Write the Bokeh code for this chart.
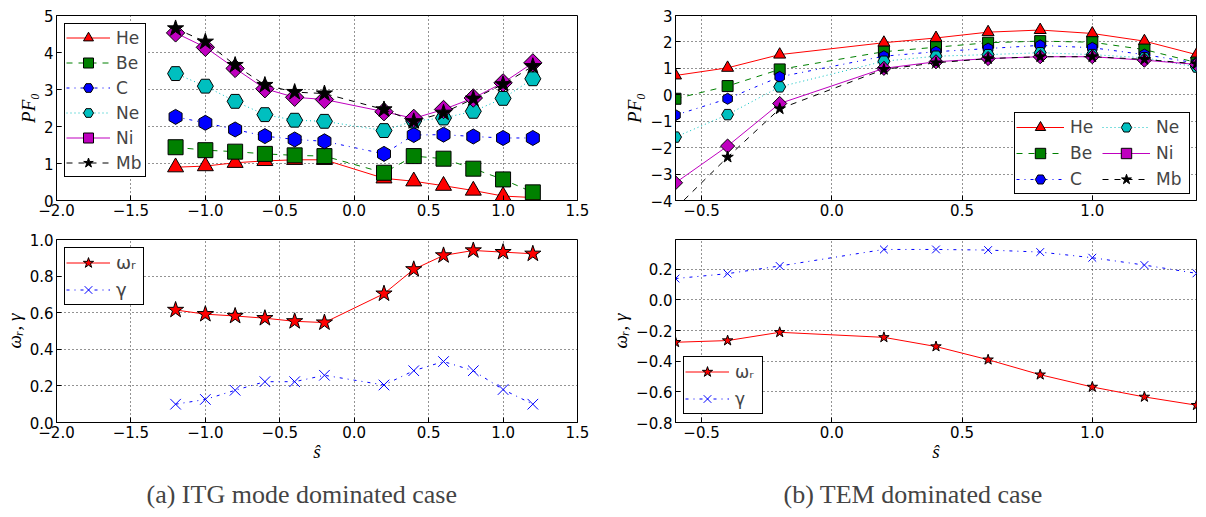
import numpy as np
from bokeh.plotting import figure
from bokeh.layouts import row, column
from bokeh.models import Title, SingleIntervalTicker, CustomJSTickFormatter, Range1d
from bokeh.embed import file_html
from bokeh.resources import INLINE

# ---------------- data ----------------
s_itg = [-1.2, -1.0, -0.8, -0.6, -0.4, -0.2, 0.2, 0.4, 0.6, 0.8, 1.0, 1.2]
he_itg = [0.90, 0.93, 1.02, 1.07, 1.10, 1.10, 0.60, 0.52, 0.40, 0.27, 0.12, 0.08]
be_itg = [1.44, 1.36, 1.32, 1.26, 1.22, 1.20, 0.75, 1.20, 1.13, 0.86, 0.57, 0.22]
c_itg = [2.26, 2.10, 1.92, 1.74, 1.65, 1.60, 1.26, 1.77, 1.78, 1.73, 1.69, 1.69]
ne_itg = [3.43, 3.09, 2.68, 2.32, 2.17, 2.14, 1.89, 2.15, 2.23, 2.41, 2.76, 3.29]
ni_itg = [4.53, 4.14, 3.57, 3.02, 2.79, 2.73, 2.40, 2.22, 2.46, 2.77, 3.18, 3.72]
mb_itg = [4.65, 4.29, 3.66, 3.12, 2.93, 2.89, 2.46, 2.14, 2.37, 2.75, 3.14, 3.63]
wr_itg = [0.615, 0.592, 0.582, 0.570, 0.553, 0.546, 0.704, 0.837, 0.913, 0.940, 0.931, 0.922]
gam_itg = [0.100, 0.126, 0.176, 0.223, 0.223, 0.258, 0.205, 0.283, 0.333, 0.283, 0.180, 0.100]

s_tem = [-0.6, -0.4, -0.2, 0.2, 0.4, 0.6, 0.8, 1.0, 1.2, 1.4]
he_tem = [0.73, 1.02, 1.52, 1.97, 2.15, 2.37, 2.45, 2.32, 2.03, 1.52]
be_tem = [-0.15, 0.33, 0.96, 1.63, 1.80, 1.97, 2.03, 1.99, 1.71, 1.22]
c_tem = [-0.77, -0.15, 0.68, 1.46, 1.63, 1.75, 1.87, 1.78, 1.52, 1.20]
ne_tem = [-1.60, -0.75, 0.30, 1.27, 1.46, 1.52, 1.59, 1.52, 1.40, 1.05]
ni_tem = [-3.33, -1.94, -0.33, 1.00, 1.25, 1.37, 1.44, 1.44, 1.31, 1.15]
mb_tem = [-4.30, -2.36, -0.53, 0.96, 1.21, 1.37, 1.44, 1.44, 1.34, 1.17]
wr_tem = [-0.276, -0.265, -0.211, -0.244, -0.304, -0.390, -0.488, -0.568, -0.633, -0.687]
gam_tem = [0.140, 0.172, 0.222, 0.330, 0.330, 0.326, 0.313, 0.276, 0.228, 0.174]

RED = "#ff0000"
GREEN = "#008000"
BLUE = "#0000ff"
CYAN = "#00bfbf"
MAG = "#bf00bf"
BLACK = "#000000"

TICK_FONT = "DejaVu Sans"
SERIF = "Liberation Serif"


def fmt(d):
    return CustomJSTickFormatter(code=f"""
        const v = Math.abs(tick) < 1e-9 ? 0 : tick;
        return v.toFixed({d}).replace('-', '\\u2212');
    """)


def make_fig(xr, yr, fw, fh, mbl, mbr, mbt, mbb):
    p = figure(x_range=Range1d(*xr), y_range=Range1d(*yr),
               frame_width=fw, frame_height=fh,
               min_border_left=mbl, min_border_right=mbr,
               min_border_top=mbt, min_border_bottom=mbb,
               output_backend="svg", toolbar_location=None,
               background_fill_color="white", border_fill_color="white")
    p.outline_line_color = "black"
    p.outline_line_width = 1
    p.outline_line_alpha = 1
    p.grid.grid_line_color = "black"
    p.grid.grid_line_dash = "1 3"
    p.grid.grid_line_alpha = 0.85
    p.grid.grid_line_width = 1
    for ax in p.axis:
        ax.major_tick_in = 5
        ax.major_tick_out = 0
        ax.minor_tick_in = 0
        ax.minor_tick_out = 0
        ax.axis_line_color = "black"
        ax.major_tick_line_color = "black"
        ax.major_label_text_font = TICK_FONT
        ax.major_label_text_font_size = "15px"
        ax.major_label_text_color = "black"
        ax.major_label_standoff = 3
        ax.axis_label_text_font = SERIF
        ax.axis_label_text_font_style = "italic"
        ax.axis_label_text_font_size = "19px"
        ax.axis_label_text_color = "black"
        ax.axis_label_standoff = 2
    return p


def series(p, x, y, color, dash, marker, size, label, angle=0.0,
           fill=None, mline="black"):
    p.line(x, y, line_color=color, line_width=1, line_dash=dash,
           legend_label=label)
    p.scatter(x, y, marker=marker, size=size, angle=angle,
              fill_color=fill if fill is not None else color,
              line_color=mline, line_width=1, legend_label=label)


def style_legend(p, loc, pad, spacing, gw, gh, lfs, margin, lw=20):
    lg = p.legend[0]
    lg.location = loc
    lg.border_line_color = "black"
    lg.border_line_width = 1
    lg.border_line_alpha = 1
    lg.background_fill_color = "white"
    lg.background_fill_alpha = 1
    lg.padding = pad
    lg.spacing = spacing
    lg.glyph_width = gw
    lg.glyph_height = gh
    lg.label_height = gh
    lg.label_width = lw
    lg.label_text_font = TICK_FONT
    lg.label_text_font_size = lfs
    lg.label_standoff = 6
    lg.margin = margin
    return lg


# ---------------- (a) top ----------------
pa1 = make_fig((-2.0, 1.5), (0, 5), 521, 185, 52, 20, 15, 30)
series(pa1, s_itg, he_itg, RED, "solid", "triangle", 16, "He")
series(pa1, s_itg, be_itg, GREEN, "6 6", "square", 15, "Be")
series(pa1, s_itg, c_itg, BLUE, "3 5 1 5", "hex", 15, "C", angle=np.pi / 2)
series(pa1, s_itg, ne_itg, CYAN, "1 3", "hex", 16, "Ne")
series(pa1, s_itg, ni_itg, MAG, "solid", "square", 13, "Ni", angle=np.pi / 4)
series(pa1, s_itg, mb_itg, BLACK, "6 6", "star", 17, "Mb", fill=BLACK)
pa1.xaxis.ticker = SingleIntervalTicker(interval=0.5)
pa1.yaxis.ticker = SingleIntervalTicker(interval=1)
pa1.xaxis.formatter = fmt(1)
pa1.yaxis.formatter = fmt(0)
pa1.yaxis.axis_label = "PF₀"
style_legend(pa1, "top_left", 1, 0, 44, 25, "17px", 8, lw=28)

# ---------------- (a) bottom ----------------
pa2 = make_fig((-2.0, 1.5), (0, 1.0), 521, 183, 52, 20, 9, 80)
series(pa2, s_itg, wr_itg, RED, "solid", "star", 17, "ωᵣ")
pa2.line(s_itg, gam_itg, line_color=BLUE, line_width=1, line_dash="3 5 1 5",
         legend_label="γ")
pa2.scatter(s_itg, gam_itg, marker="x", size=15, line_color=BLUE,
            line_width=1, legend_label="γ")
pa2.xaxis.ticker = SingleIntervalTicker(interval=0.5)
pa2.yaxis.ticker = SingleIntervalTicker(interval=0.2)
pa2.xaxis.formatter = fmt(1)
pa2.yaxis.formatter = fmt(1)
pa2.yaxis.axis_label = "ωᵣ, γ"
pa2.xaxis.axis_label = "ŝ"
pa2.xaxis.axis_label_standoff = 0
style_legend(pa2, "top_left", 1, 0, 44, 27, "18px", 8, lw=26)
pa2.add_layout(Title(text="(a) ITG mode dominated case", text_font=SERIF,
                     text_font_size="26px", text_font_style="normal",
                     align="left", offset=90, standoff=27), "below")

# ---------------- (b) top ----------------
pb1 = make_fig((-0.6, 1.4), (-4, 3), 521, 185, 78, 4, 15, 30)
series(pb1, s_tem, he_tem, RED, "solid", "triangle", 12, "He")
series(pb1, s_tem, be_tem, GREEN, "6 6", "square", 11, "Be")
series(pb1, s_tem, c_tem, BLUE, "3 5 1 5", "hex", 11, "C", angle=np.pi / 2)
series(pb1, s_tem, ne_tem, CYAN, "1 3", "hex", 12, "Ne")
series(pb1, s_tem, ni_tem, MAG, "solid", "square", 10, "Ni", angle=np.pi / 4)
series(pb1, s_tem, mb_tem, BLACK, "6 6", "star", 12, "Mb", fill=BLACK)
pb1.xaxis.ticker = SingleIntervalTicker(interval=0.5)
pb1.yaxis.ticker = SingleIntervalTicker(interval=1)
pb1.xaxis.formatter = fmt(1)
pb1.yaxis.formatter = fmt(0)
pb1.yaxis.axis_label = "PF₀"
lgb = style_legend(pb1, "bottom_right", 1, 0, 48, 26, "17px", 6, lw=32)
lgb.ncols = 2

# ---------------- (b) bottom ----------------
pb2 = make_fig((-0.6, 1.4), (-0.8, 0.395), 521, 183, 78, 4, 9, 80)
series(pb2, s_tem, wr_tem, RED, "solid", "star", 11, "ωᵣ")
pb2.line(s_tem, gam_tem, line_color=BLUE, line_width=1, line_dash="3 5 1 5",
         legend_label="γ")
pb2.scatter(s_tem, gam_tem, marker="x", size=11, line_color=BLUE,
            line_width=1, legend_label="γ")
pb2.xaxis.ticker = SingleIntervalTicker(interval=0.5)
pb2.yaxis.ticker = SingleIntervalTicker(interval=0.2)
pb2.xaxis.formatter = fmt(1)
pb2.yaxis.formatter = fmt(1)
pb2.yaxis.axis_label = "ωᵣ, γ"
pb2.xaxis.axis_label = "ŝ"
pb2.xaxis.axis_label_standoff = 0
style_legend(pb2, "bottom_left", 1, 0, 44, 27, "17px", 8, lw=26)
pb2.add_layout(Title(text="(b) TEM dominated case", text_font=SERIF,
                     text_font_size="26px", text_font_style="normal",
                     align="left", offset=108, standoff=27), "below")

layout = row(column(pa1, pa2, spacing=0), column(pb1, pb2, spacing=0), spacing=0)
open("out.html", "w").write(file_html(layout, INLINE))
